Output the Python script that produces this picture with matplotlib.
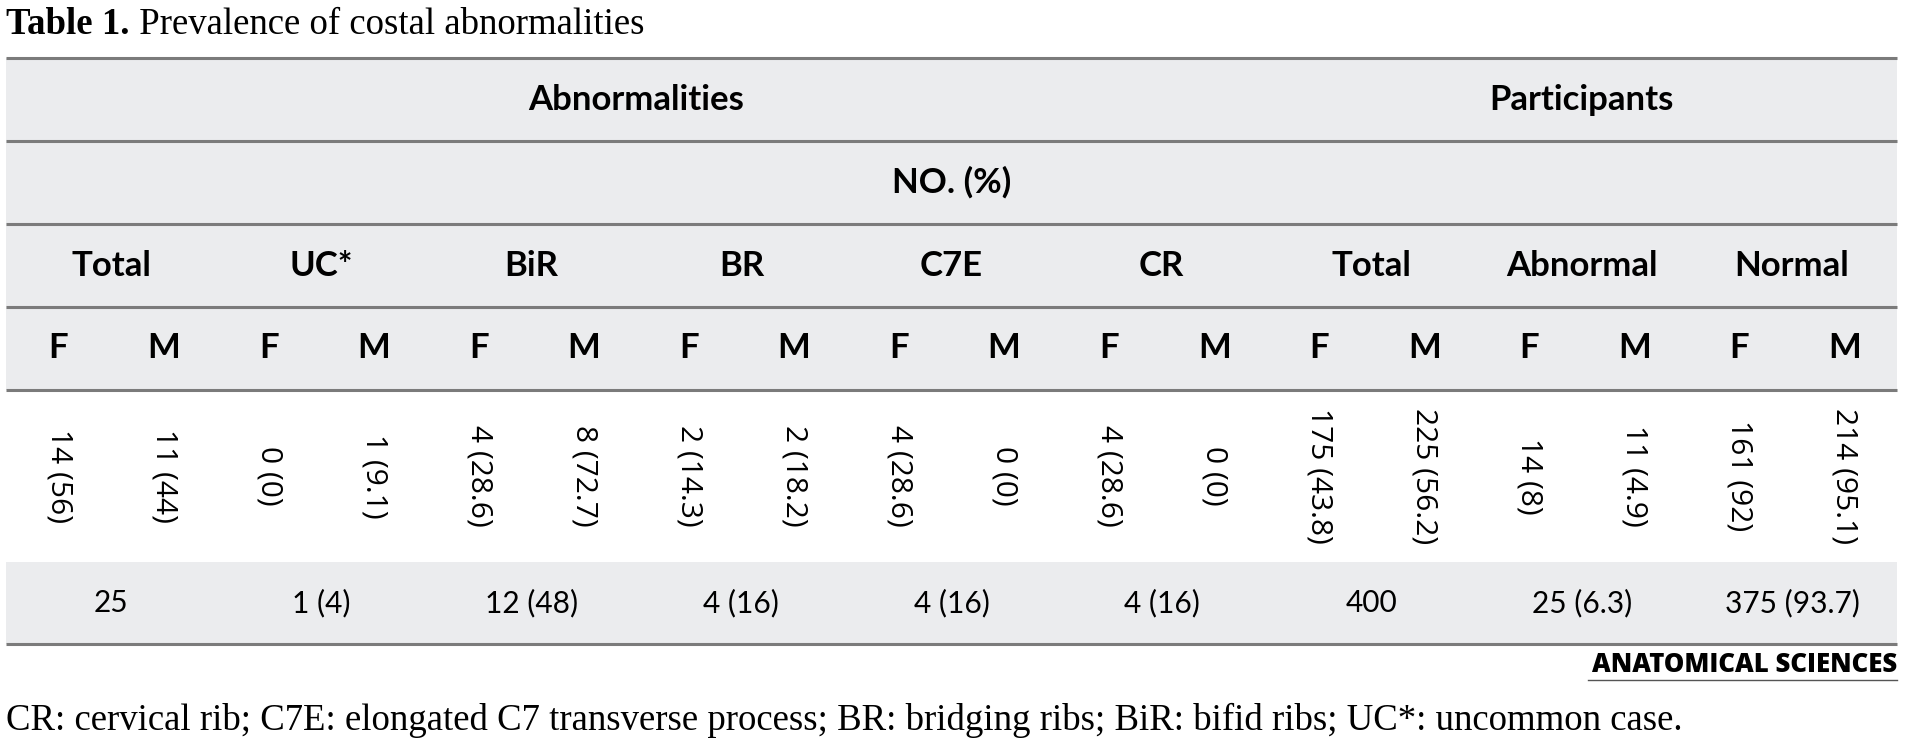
import matplotlib.pyplot as plt

# Table data (Table 1. Prevalence of costal abnormalities)
groups = ["Total", "UC*", "BiR", "BR", "C7E", "CR", "Total", "Abnormal", "Normal"]
sexes = ["F", "M"]
female_n = [14, 0, 4, 2, 4, 4, 175, 14, 161]
female_pct = [56, 0, 28.6, 14.3, 28.6, 28.6, 43.8, 8, 92]
male_n = [11, 1, 8, 2, 0, 0, 225, 11, 214]
male_pct = [44, 9.1, 72.7, 18.2, 0, 0, 56.2, 4.9, 95.1]
total_n = [25, 1, 12, 4, 4, 4, 400, 25, 375]
total_pct = [None, 4, 48, 16, 16, 16, None, 6.3, 93.7]

title_bold = "Table 1."
title_rest = " Prevalence of costal abnormalities"
footnote = ("CR: cervical rib; C7E: elongated C7 transverse process; BR: bridging ribs; "
            "BiR: bifid ribs; UC*: uncommon case.")


def fmt(n, p):
    return str(n) if p is None else f"{n} ({p:g})"


W, H = 1915, 740
fig = plt.figure(figsize=(W / 100, H / 100), dpi=100)
ax = fig.add_axes([0, 0, 1, 1])
ax.set_xlim(0, W)
ax.set_ylim(H, 0)
ax.axis("off")

left, right = 6, 1897
ncol = 2 * len(groups)
cw = (right - left) / ncol
rows = [58, 141, 224, 307, 390, 562, 644]
grey = "#ebecee"
line_c = "#7b7b7b"

# backgrounds
ax.fill_between([left, right], rows[0], rows[4], color=grey, lw=0)
ax.fill_between([left, right], rows[5], rows[6], color=grey, lw=0)
for y in [58, 141, 224, 307, 390, 644]:
    ax.plot([left, right], [y, y], color=line_c, lw=2.2, solid_capstyle="butt")

hdr = dict(family="Lato", weight="bold", fontsize=25, ha="center", va="center", color="black")


def span_x(c0, c1):
    return left + (c0 + c1 + 1) / 2 * cw


ax.text(span_x(0, 11), (rows[0] + rows[1]) / 2, "Abnormalities", **hdr)
ax.text(span_x(12, 17), (rows[0] + rows[1]) / 2, "Participants", **hdr)
ax.text(span_x(0, 17), (rows[1] + rows[2]) / 2, "NO. (%)", **hdr)

for i, g in enumerate(groups):
    ax.text(span_x(2 * i, 2 * i + 1), (rows[2] + rows[3]) / 2, g, **hdr)
    for j, s in enumerate(sexes):
        ax.text(span_x(2 * i + j, 2 * i + j), (rows[3] + rows[4]) / 2, s, **hdr)

# rotated data cells
ymid = (rows[4] + rows[5]) / 2
for i in range(len(groups)):
    vals = [fmt(female_n[i], female_pct[i]), fmt(male_n[i], male_pct[i])]
    for j, v in enumerate(vals):
        ax.text(span_x(2 * i + j, 2 * i + j), ymid, v, family="Open Sans", fontsize=21.5,
                rotation=270, ha="center", va="center", color="black")

# totals row
for i in range(len(groups)):
    ax.text(span_x(2 * i, 2 * i + 1), (rows[5] + rows[6]) / 2, fmt(total_n[i], total_pct[i]),
            family="Lato", fontsize=21.5, ha="center", va="center", color="black")

# title
t = ax.text(left, 34, title_bold, family="Liberation Serif", weight="bold", fontsize=26.5,
            ha="left", va="baseline", color="black")
fig.canvas.draw()
bb = t.get_window_extent()
x_end = ax.transData.inverted().transform((bb.x1, bb.y0))[0]
ax.text(x_end, 34, title_rest, family="Liberation Serif", fontsize=26.5,
        ha="left", va="baseline", color="black")

# logo
ax.text(right, 672, "ANATOMICAL SCIENCES", family="Open Sans", weight="heavy", fontsize=18.5,
        ha="right", va="baseline", color="black")
ax.plot([1588, right], [680, 680], color="#555555", lw=1.0)

# footnote
ax.text(left, 730, footnote, family="Liberation Serif", fontsize=26.5,
        ha="left", va="baseline", color="black")

fig.savefig("out.png", dpi=100)
